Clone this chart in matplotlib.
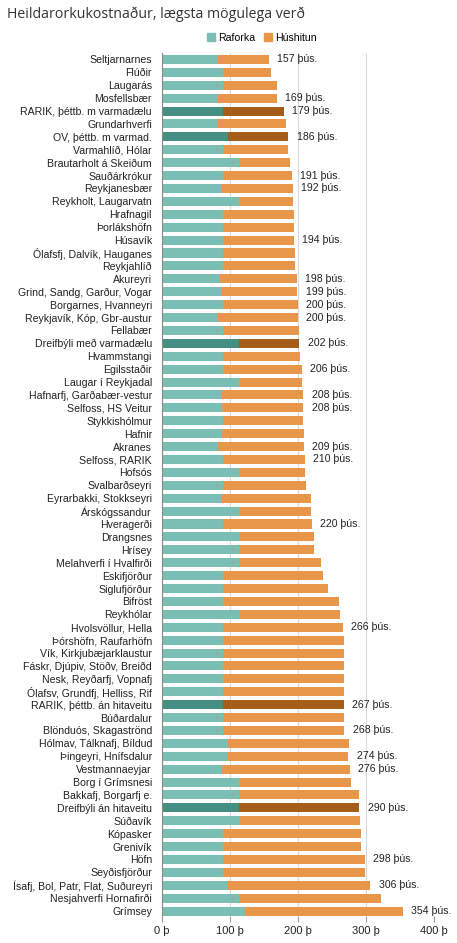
import matplotlib
matplotlib.use("Agg")
import matplotlib.pyplot as plt
from matplotlib.patches import Patch
import numpy as np

categories = [
    "Seltjarnarnes", "Flúðir", "Laugarás", "Mosfellsbær", "RARIK, þéttb. m varmadælu",
    "Grundarhverfi", "OV, þéttb. m varmad.", "Varmahlíð, Hólar", "Brautarholt á Skeiðum",
    "Sauðárkrókur", "Reykjanesbær", "Reykholt, Laugarvatn", "Hrafnagil", "Þorlákshöfn",
    "Húsavík", "Ólafsfj, Dalvík, Hauganes", "Reykjahlíð", "Akureyri",
    "Grind, Sandg, Garður, Vogar", "Borgarnes, Hvanneyri", "Reykjavík, Kóp, Gbr-austur",
    "Fellabær", "Dreifbýli með varmadælu", "Hvammstangi", "Egilsstaðir",
    "Laugar í Reykjadal", "Hafnarfj, Garðabær-vestur", "Selfoss, HS Veitur",
    "Stykkishólmur", "Hafnir", "Akranes", "Selfoss, RARIK", "Hofsós", "Svalbarðseyri",
    "Eyrarbakki, Stokkseyri", "Árskógssandur", "Hveragerði", "Drangsnes", "Hrísey",
    "Melahverfi í Hvalfirði", "Eskifjörður", "Siglufjörður", "Bifröst", "Reykhólar",
    "Hvolsvöllur, Hella", "Þórshöfn, Raufarhöfn", "Vík, Kirkjubæjarklaustur",
    "Fáskr, Djúpiv, Stöðv, Breiðd", "Nesk, Reyðarfj, Vopnafj",
    "Ólafsv, Grundfj, Helliss, Rif", "RARIK, þéttb. án hitaveitu", "Búðardalur",
    "Blönduós, Skagaströnd", "Hólmav, Tálknafj, Bíldud", "Þingeyri, Hnífsdalur",
    "Vestmannaeyjar", "Borg í Grímsnesi", "Bakkafj, Borgarfj e.",
    "Dreifbýli án hitaveitu", "Súðavík", "Kópasker", "Grenivík", "Höfn",
    "Seyðisfjörður", "Ísafj, Bol, Patr, Flat, Suðureyri", "Nesjahverfi Hornafirði",
    "Grímsey",
]

raforka = [
    82, 90, 90, 82, 90, 82, 97, 90, 113, 90, 88, 113, 90, 90, 90, 90, 90, 85, 88, 90,
    82, 90, 113, 90, 90, 113, 88, 88, 90, 88, 82, 90, 113, 90, 88, 113, 90, 115, 113,
    113, 90, 90, 90, 115, 90, 90, 90, 90, 90, 90, 90, 90, 90, 97, 97, 88, 113, 113,
    113, 115, 90, 90, 90, 90, 97, 113, 122,
]

hushitun = [
    75, 70, 79, 87, 89, 101, 89, 96, 75, 101, 104, 80, 104, 104, 104, 106, 106, 113,
    111, 110, 118, 111, 89, 113, 116, 93, 120, 120, 118, 121, 127, 120, 98, 122, 131,
    106, 130, 108, 110, 121, 147, 154, 170, 147, 176, 177, 177, 177, 177, 177, 177,
    177, 178, 178, 177, 188, 165, 177, 177, 176, 202, 202, 208, 208, 209, 209, 232,
]

value_labels = [
    "157 þús.", "", "", "169 þús.", "179 þús.", "", "186 þús.", "", "", "191 þús.",
    "192 þús.", "", "", "", "194 þús.", "", "", "198 þús.", "199 þús.", "200 þús.",
    "200 þús.", "", "202 þús.", "", "206 þús.", "", "208 þús.", "208 þús.", "", "",
    "209 þús.", "210 þús.", "", "", "", "", "220 þús.", "", "", "", "", "", "", "",
    "266 þús.", "", "", "", "", "", "267 þús.", "", "268 þús.", "", "274 þús.",
    "276 þús.", "", "", "290 þús.", "", "", "", "298 þús.", "", "306 þús.", "",
    "354 þús.",
]

highlighted = [
    "RARIK, þéttb. m varmadælu", "OV, þéttb. m varmad.", "Dreifbýli með varmadælu",
    "RARIK, þéttb. án hitaveitu", "Dreifbýli án hitaveitu",
]

x_ticks = [0, 100, 200, 300, 400]
x_ticklabels = ["0 þ", "100 þ", "200 þ", "300 þ", "400 þ"]

TEAL = "#7bbfb4"
ORANGE = "#e8974a"
TEAL_D = "#468e83"
ORANGE_D = "#a55d1a"

plt.rcParams["font.family"] = ["Liberation Sans", "DejaVu Sans"]

fig = plt.figure(figsize=(4.57, 9.43), dpi=100)
ax = fig.add_axes([161.7 / 457, 1 - 916 / 943, (434.3 - 161.7) / 457, (916 - 53) / 943])

y = np.arange(len(categories))
c1 = [TEAL_D if c in highlighted else TEAL for c in categories]
c2 = [ORANGE_D if c in highlighted else ORANGE for c in categories]
ax.barh(y, raforka, height=0.7, color=c1, zorder=3)
ax.barh(y, hushitun, left=raforka, height=0.7, color=c2, zorder=3)

for i, lab in enumerate(value_labels):
    if lab:
        ax.annotate(lab, xy=(raforka[i] + hushitun[i], y[i]), xytext=(6, 0),
                    textcoords="offset points", va="center", ha="left",
                    fontsize=7.6, color="#222222", annotation_clip=False)

ax.set_xlim(0, 400)
ax.set_ylim(len(categories) - 0.62, -0.5)
ax.set_yticks(y)
ax.set_yticklabels(categories, fontsize=7.6, color="#222222")
ax.set_xticks(x_ticks)
ax.set_xticklabels(x_ticklabels, fontsize=8, color="#222222")
ax.tick_params(axis="y", length=0, pad=7)
ax.tick_params(axis="x", length=4, width=0.8, color="#999999", pad=3, direction="out")
ax.grid(axis="x", color="#d9d9d9", linewidth=0.8, zorder=0)
for s in ["top", "right", "bottom"]:
    ax.spines[s].set_visible(False)
ax.spines["left"].set_color("#888888")
ax.spines["left"].set_linewidth(0.8)
ax.spines["left"].set_zorder(4)

fig.text(7 / 457, 1 - 14 / 943, "Heildarorkukostnaður, lægsta mögulega verð",
         fontsize=10.2, family=["Open Sans", "DejaVu Sans"], color="#333333",
         va="center", ha="left")

handles = [Patch(color=TEAL, label="Raforka"), Patch(color=ORANGE, label="Húshitun")]
fig.legend(handles=handles, loc="center", bbox_to_anchor=(262 / 457, 1 - 38 / 943),
           ncol=2, frameon=False, fontsize=7.6, handlelength=0.8, handleheight=0.8,
           handletextpad=0.3, columnspacing=0.8, borderaxespad=0)

fig.savefig("out.png", dpi=100)
